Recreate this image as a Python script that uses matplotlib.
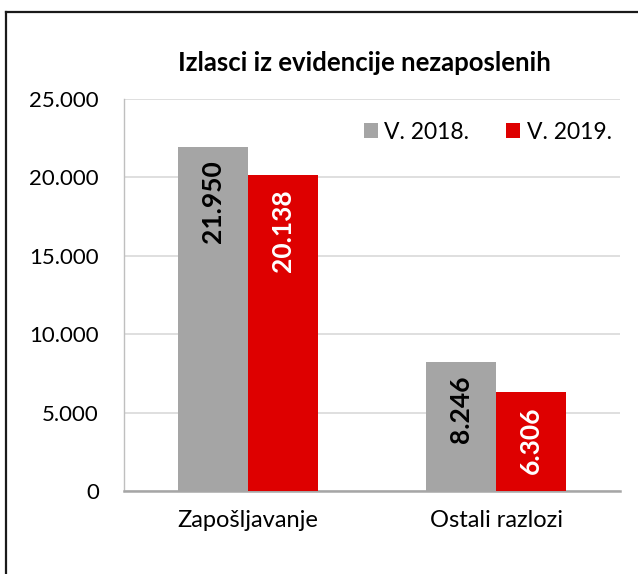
import numpy as np
import matplotlib.pyplot as plt
from matplotlib.lines import Line2D

categories = ["Zapošljavanje", "Ostali razlozi"]
series_names = ["V. 2018.", "V. 2019."]
values_2018 = [21950, 8246]
values_2019 = [20138, 6306]
yticks = [0, 5000, 10000, 15000, 20000, 25000]
ytick_labels = ["0", "5.000", "10.000", "15.000", "20.000", "25.000"]

gray = "#A5A5A5"
red = "#DE0000"

plt.rcParams['font.family'] = ['Lato', 'DejaVu Sans']

fig = plt.figure(figsize=(6.38, 5.74), dpi=100)
ax = fig.add_axes([0.1944, 0.1446, 0.7774, 0.6829])

x = np.arange(len(categories))
w = 0.283
bars1 = ax.bar(x - w / 2, values_2018, w, color=gray, label=series_names[0], zorder=3)
bars2 = ax.bar(x + w / 2, values_2019, w, color=red, label=series_names[1], zorder=3)

def fmt(v):
    return f"{v:,}".replace(",", ".")

for bars, col in [(bars1, "black"), (bars2, "white")]:
    for b in bars:
        ax.annotate(fmt(int(b.get_height())), (b.get_x() + b.get_width() / 2, b.get_height()),
                    xytext=(0, -10), textcoords="offset points", rotation=90,
                    ha="center", va="top", fontsize=19, fontweight="bold", color=col, zorder=4)

ax.set_xlim(-0.5, 1.5)
ax.set_ylim(0, 25000)
ax.set_yticks(yticks)
ax.set_yticklabels(ytick_labels, fontsize=16)
ax.set_xticks(x)
ax.set_xticklabels(categories, fontsize=17)
ax.tick_params(axis="y", length=0, pad=18)
ax.tick_params(axis="x", length=0, pad=14)
ax.grid(axis="y", color="#D9D9D9", linewidth=1.2, zorder=0)

for s in ["top", "right"]:
    ax.spines[s].set_visible(False)
ax.spines["left"].set_color("#BFBFBF")
ax.spines["left"].set_linewidth(1.0)
ax.spines["bottom"].set_color("#A6A6A6")
ax.spines["bottom"].set_linewidth(1.8)

ax.set_title("Izlasci iz evidencije nezaposlenih", fontsize=18.5, fontweight="bold", pad=20, x=0.485)

ax.legend(loc="upper right", bbox_to_anchor=(1.025, 0.995), ncol=2, frameon=False, fontsize=16.5,
          handlelength=0.6, handleheight=0.6, handletextpad=0.3, columnspacing=1.6)

# outer frame (only top and left edges visible)
fig.add_artist(Line2D([6 / 638, 1.0], [1 - 12 / 574, 1 - 12 / 574], color="#1A1A1A", linewidth=1.6,
                      transform=fig.transFigure))
fig.add_artist(Line2D([6 / 638, 6 / 638], [0.0, 1 - 12 / 574], color="#1A1A1A", linewidth=1.6,
                      transform=fig.transFigure))

plt.savefig("out.png", dpi=100)
